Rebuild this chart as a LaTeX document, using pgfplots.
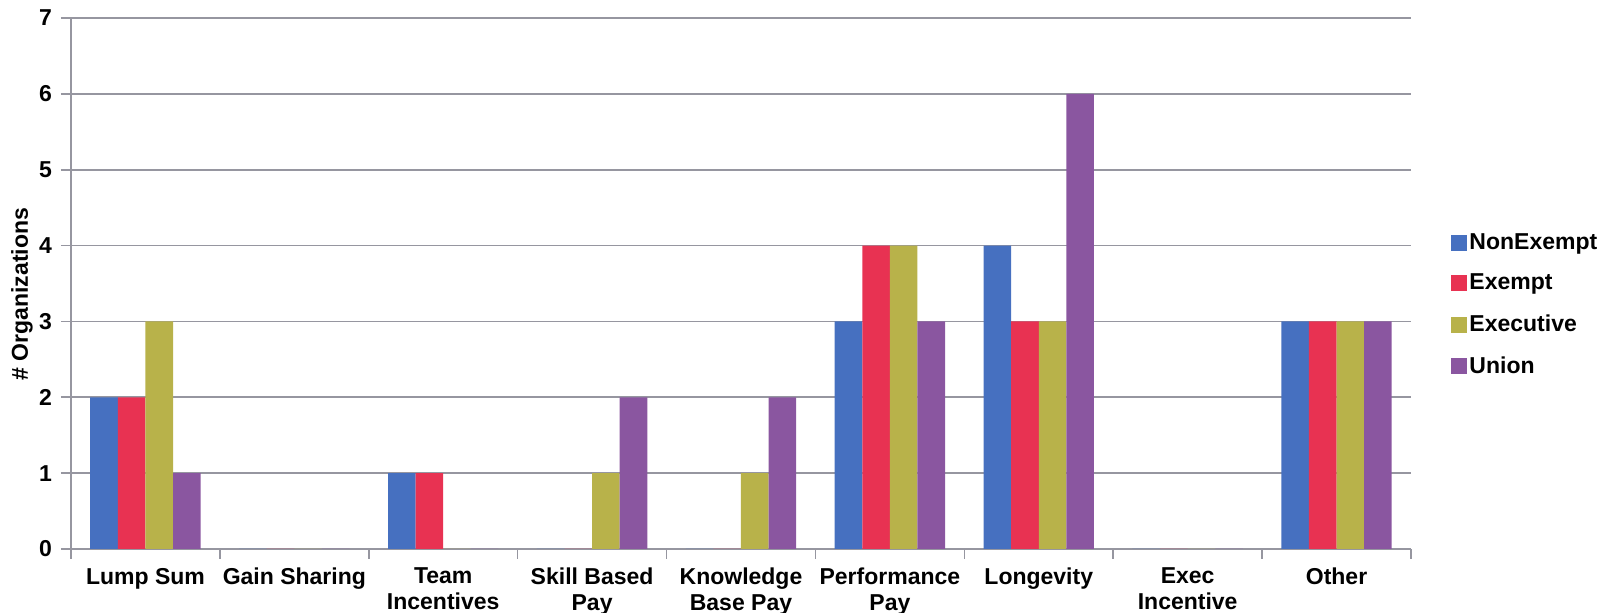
\documentclass[border=0pt]{standalone}
\usepackage{pgfplots}
\pgfplotsset{compat=1.18}
\usepackage{fontspec}
\setmainfont{Liberation Sans}
\definecolor{cNon}{RGB}{70,112,192}
\definecolor{cExm}{RGB}{232,50,82}
\definecolor{cExe}{RGB}{184,178,74}
\definecolor{cUni}{RGB}{138,86,160}
\definecolor{gridc}{RGB}{150,150,160}
\begin{document}
\begin{tikzpicture}
\useasboundingbox (0,0) rectangle (800.5pt,306.5pt);
\begin{axis}[
  at={(35.5pt,32pt)}, anchor=south west,
  scale only axis, width=670pt, height=265.5pt,
  xmin=-0.5, xmax=8.5, ymin=0, ymax=7,
  ybar=0pt, bar width=13.8pt,
  axis x line*=bottom, axis y line*=left,
  axis line style={gridc, line width=0.8pt},
  xtick={0,...,8},
  xticklabels={Lump Sum, Gain Sharing, Team\\Incentives, Skill Based\\Pay, Knowledge\\Base Pay, Performance\\Pay, Longevity, Exec\\Incentive, Other},
  major x tick style={draw=none},
  minor xtick={-0.5,0.5,...,8.5},
  minor x tick style={gridc, line width=0.8pt},
  minor tick length=5pt,
  tick align=outside,
  ytick={0,...,7},
  major y tick style={gridc, line width=0.8pt},
  major tick length=5pt,
  ymajorgrids, grid style={gridc, line width=0.8pt},
  /pgf/number format/assume math mode=true,
  tick label style={font=\fontsize{11.5}{13}\selectfont\bfseries},
  xticklabel style={align=center, anchor=north, yshift=-1pt},
  yticklabel style={xshift=-1pt},
  ylabel={\# Organizations},
  every axis y label/.style={at={(axis description cs:-0.0366,0.48)}, rotate=90, anchor=center, font=\fontsize{11.5}{13.8}\selectfont\bfseries},
  legend style={at={(1.0299,0.46)}, anchor=west, draw=none, fill=none, inner sep=0pt,
    font=\fontsize{11.5}{13.8}\selectfont\bfseries, row sep=7pt,
    nodes={inner xsep=1pt},
    /tikz/every even column/.append style={column sep=0pt}},
  legend cell align=left,
  legend image code/.code={\fill[#1] (0pt,-4pt) rectangle (8pt,4pt);},
]
\addplot[fill=cNon, draw=none] coordinates {(0,2) (1,0) (2,1) (3,0) (4,0) (5,3) (6,4) (7,0) (8,3)};
\addplot[fill=cExm, draw=none] coordinates {(0,2) (1,0) (2,1) (3,0) (4,0) (5,4) (6,3) (7,0) (8,3)};
\addplot[fill=cExe, draw=none] coordinates {(0,3) (1,0) (2,0) (3,1) (4,1) (5,4) (6,3) (7,0) (8,3)};
\addplot[fill=cUni, draw=none] coordinates {(0,1) (1,0) (2,0) (3,2) (4,2) (5,3) (6,6) (7,0) (8,3)};
\legend{NonExempt, Exempt, Executive, Union}
\end{axis}
\end{tikzpicture}
\end{document}
